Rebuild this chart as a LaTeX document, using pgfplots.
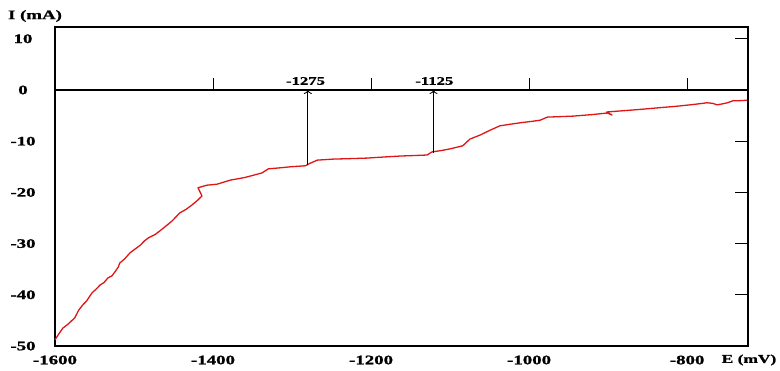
\documentclass[border=0pt]{standalone}
\usepackage{fontspec}
\setmainfont{Liberation Serif}[FakeStretch=1.45, BoldFeatures={FakeBold=1.2}]
\usepackage{pgfplots}
\pgfplotsset{compat=1.18}
\usetikzlibrary{arrows.meta}
\definecolor{curvered}{RGB}{222,22,22}
\begin{document}
\begin{tikzpicture}
\begin{axis}[
  name=ax,
  scale only axis,
  width=693pt, height=319pt,
  xmin=-1600, xmax=-723,
  ymin=-50, ymax=12.3,
  axis line style={line width=1.3pt},
  xtick={-1600,-1400,-1200,-1000,-800},
  xticklabels={-1600,-1400,-1200,-1000,-800},
  xtick style={draw=none},
  ytick={-50,-40,-30,-20,-10,0,10},
  yticklabels={-50,-40,-30,-20,-10,0,10},
  ytick pos=right,
  yticklabel pos=left,
  major tick length=13pt,
  ytick style={line width=0.9pt,black},
  /pgf/number format/assume math mode=true,
  ticklabel style={font=\fontsize{13}{15}\selectfont\bfseries},
  xticklabel style={anchor=center, yshift=-14pt},
  yticklabel style={anchor=center, xshift=-32pt},
  clip=false,
]
% zero line
\draw[line width=1.3pt] (axis cs:-1600,0) -- (axis cs:-723,0);
% ticks on zero line
\draw[line width=2pt] (axis cs:-1600,0) -- (axis cs:-1600,2.35);
\draw[line width=0.9pt] (axis cs:-1400,0) -- (axis cs:-1400,2.35);
\draw[line width=0.9pt] (axis cs:-1200,0) -- (axis cs:-1200,2.35);
\draw[line width=0.9pt] (axis cs:-1000,0) -- (axis cs:-1000,2.35);
\draw[line width=0.9pt] (axis cs:-800,0) -- (axis cs:-800,2.35);
% curve
\addplot[color=curvered, line width=1.3pt, line join=round] coordinates {
(-1600,-48.8) (-1595,-47.6) (-1590,-46.5) (-1584,-45.8) (-1575,-44.5) (-1570,-43.0)
(-1565,-42.0) (-1560,-41.2) (-1553,-39.6) (-1548,-38.9) (-1543,-38.1) (-1538,-37.6)
(-1533,-36.7) (-1528,-36.3) (-1524,-35.5) (-1520,-34.6) (-1518,-33.8) (-1512,-33.0)
(-1505,-31.8) (-1499,-31.1) (-1492,-30.3) (-1487,-29.5) (-1482,-28.9) (-1473,-28.2)
(-1463,-27.0) (-1452,-25.6) (-1442,-24.0) (-1434,-23.3) (-1427,-22.5) (-1420,-21.6)
(-1414,-20.7) (-1419,-19.1) (-1408,-18.6) (-1395,-18.4) (-1378,-17.6) (-1360,-17.1)
(-1338,-16.2) (-1330,-15.4) (-1315,-15.2) (-1302,-15.0) (-1283,-14.8) (-1277,-14.3)
(-1268,-13.7) (-1248,-13.5) (-1225,-13.4) (-1205,-13.3) (-1185,-13.1) (-1163,-12.9)
(-1145,-12.8) (-1129,-12.7) (-1123,-12.1) (-1110,-11.8) (-1100,-11.5) (-1084,-10.9)
(-1075,-9.6) (-1062,-8.8) (-1050,-7.9) (-1037,-7.0) (-1020,-6.6) (-1011,-6.4)
(-995,-6.1) (-986,-5.9) (-977,-5.3) (-960,-5.2) (-944,-5.1) (-920,-4.8)
(-901,-4.5) (-895,-4.9) (-902,-4.3) (-885,-4.1) (-860,-3.8) (-838,-3.5)
(-815,-3.2) (-796,-2.9) (-785,-2.7) (-775,-2.5) (-768,-2.6) (-762,-2.9)
(-755,-2.7) (-749,-2.5) (-742,-2.1) (-735,-2.1) (-724,-2.0)
};
% arrows
\addplot[black, line width=0.8pt, -{To[length=4pt,width=8pt]}] coordinates {(-1280,-14.6) (-1280,0)};
\addplot[black, line width=0.8pt, -{To[length=4pt,width=8pt]}] coordinates {(-1121,-12.3) (-1121,0)};
\node[font=\fontsize{11.5}{13}\selectfont\bfseries] at (axis cs:-1283,1.75) {-1275};
\node[font=\fontsize{11.5}{13}\selectfont\bfseries] at (axis cs:-1120,1.75) {-1125};
% axis labels
\node[font=\fontsize{13}{15}\selectfont\bfseries, xshift=-20pt, yshift=11pt] at (rel axis cs:0,1) {I (mA)};
\node[font=\fontsize{12}{14}\selectfont\bfseries, xshift=1pt, yshift=-14pt] at (rel axis cs:1,0) {E (mV)};
\end{axis}
\path ([shift={(-55pt,-24pt)}]ax.south west) rectangle ([shift={(32pt,27pt)}]ax.north east);
\end{tikzpicture}
\end{document}
